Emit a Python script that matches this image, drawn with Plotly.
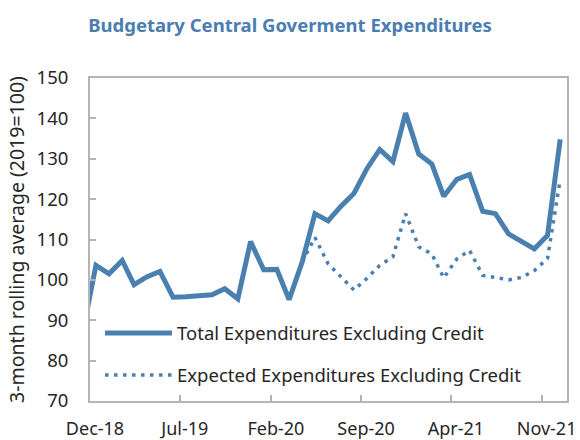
import pandas as pd
import plotly.graph_objects as go

# Monthly observations (plotted mid-month), Nov-2018 .. Dec-2021
months = pd.date_range("2018-11-01", "2021-12-01", freq="MS") + pd.Timedelta(days=14)

total = [87.7, 103.6, 101.5, 104.8, 98.8, 100.8, 102.1, 95.7, 95.8, 96.0, 96.3,
         97.8, 95.3, 109.5, 102.5, 102.6, 95.1, 104.5, 116.4, 114.6, 118.2,
         121.4, 127.6, 132.3, 129.3, 141.3, 131.2, 128.7, 120.7, 124.9, 126.1,
         117.0, 116.4, 111.4, 109.6, 107.7, 111.0, 134.8]

expected = [None] * 17 + [104.5, 110.5, 104.0, 100.8, 97.5, 100.4, 103.6, 105.7,
                          116.4, 108.2, 106.4, 100.5, 105.2, 107.3, 101.1, 100.6,
                          100.0, 100.6, 102.3, 105.3, 124.9]

tick_dates = ["2018-12-01", "2019-07-01", "2020-02-01", "2020-09-01", "2021-04-01", "2021-11-01"]
tick_text = ["Dec-18", "Jul-19", "Feb-20", "Sep-20", "Apr-21", "Nov-21"]

names = ["Total Expenditures Excluding Credit", "Expected Expenditures Excluding Credit"]

BLUE = "#4A80B0"
GRAY = "#B4B4B4"
TXT = "#262626"
FONT = "Noto Sans"

fig = go.Figure()
fig.add_trace(go.Scatter(x=months, y=total, mode="lines", name=names[0],
                         legendgroup="a",
                         line=dict(color=BLUE, width=5)))
fig.add_trace(go.Scatter(x=months, y=expected, mode="lines", name=names[1],
                         legendgroup="b",
                         line=dict(color=BLUE, width=3.5, dash="3.5px,5.5px")))

fig.update_layout(
    width=580, height=440,
    margin=dict(l=90, r=13, t=78, b=39, autoexpand=False),
    paper_bgcolor="white", plot_bgcolor="white",
    font=dict(family=FONT, size=18, color=TXT),
    title=dict(text="<b>Budgetary Central Goverment Expenditures</b>",
               x=0.5, xanchor="center", y=0.943, yanchor="middle",
               font=dict(family=FONT, size=18.5, color="#4A7DB0")),
    showlegend=True,
    legend=dict(x=0.021, y=0.02, xanchor="left", yanchor="bottom",
                bgcolor="rgba(0,0,0,0)", font=dict(size=18.5, color=TXT),
                traceorder="grouped", tracegroupgap=15, itemwidth=67),
)

fig.update_xaxes(
    type="date", range=["2018-12-01", "2021-12-31"],
    tickvals=tick_dates, ticktext=tick_text, ticklabelshift=5,
    ticklabelstandoff=10,
    ticks="inside", ticklen=6, tickwidth=2, tickcolor=GRAY,
    showline=True, linecolor=GRAY, linewidth=2, mirror=True,
    showgrid=False, zeroline=False,
    tickfont=dict(size=18, color=TXT),
)
fig.update_yaxes(
    range=[70, 150], dtick=10, tick0=70,
    ticklabelstandoff=16,
    ticks="inside", ticklen=6, tickwidth=2, tickcolor=GRAY,
    showline=True, linecolor=GRAY, linewidth=2, mirror=True,
    showgrid=False, zeroline=False,
    tickfont=dict(size=18.5, color=TXT),
    title=dict(text="3-month rolling average (2019=100)", standoff=7,
               font=dict(size=19.5, color=TXT)),
)

fig.write_html("out.html",
               config={"displayModeBar": False},
               post_script="document.body.style.margin='0';document.body.style.overflow='hidden';")
